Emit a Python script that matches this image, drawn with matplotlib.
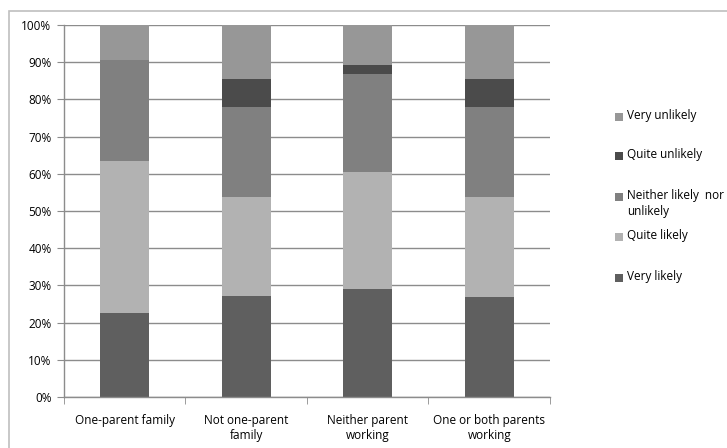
import numpy as np
import matplotlib.pyplot as plt
from matplotlib.patches import Rectangle

plt.rcParams['font.family'] = ['Open Sans', 'DejaVu Sans']

categories = ["One-parent family", "Not one-parent\nfamily", "Neither parent\nworking", "One or both parents\nworking"]
series = ["Very likely", "Quite likely", "Neither likely  nor\nunlikely", "Quite unlikely", "Very unlikely"]
very_likely = [22.7, 27.2, 28.9, 26.9]
quite_likely = [40.7, 26.6, 31.6, 26.9]
neither = [27.2, 24.2, 26.3, 24.2]
quite_unlikely = [0.0, 7.5, 2.5, 7.5]
very_unlikely = [9.4, 14.5, 10.7, 14.5]
colors = ["#5f5f5f", "#b2b2b2", "#808080", "#4b4b4b", "#979797"]

values = np.array([very_likely, quite_likely, neither, quite_unlikely, very_unlikely])

fig = plt.figure(figsize=(7.27, 4.48), dpi=100)
ax = fig.add_axes([64 / 727, 51 / 448, 486 / 727, 372 / 448])

# chart frame around everything
fig.patches.append(Rectangle((9 / 727, -0.05), 1.2, 1.05 - 11 / 448, transform=fig.transFigure,
                             fill=False, edgecolor="#bfbfbf", linewidth=1.2))

x = np.arange(len(categories))
bottom = np.zeros(len(categories))
for vals, col in zip(values, colors):
    ax.bar(x, vals, width=0.4, bottom=bottom, color=col, zorder=2)
    bottom += vals

ax.set_xlim(-0.5, len(categories) - 0.5)
ax.set_ylim(0, 100)
ax.set_yticks(np.arange(0, 101, 10))
ax.set_yticklabels([f"{v}%" for v in range(0, 101, 10)])
ax.yaxis.grid(True, color="#8c8c8c", linewidth=1.0, zorder=0)
ax.set_axisbelow(True)

ax.set_xticks(x)
ax.set_xticklabels(categories, linespacing=1.2)
ax.set_xticks(np.arange(-0.5, len(categories), 1), minor=True)
ax.tick_params(axis="x", which="major", length=0, pad=12, labelsize=8.5, colors="#000000")
ax.tick_params(axis="x", which="minor", length=5, color="#8c8c8c", direction="out")
ax.tick_params(axis="y", length=5, color="#8c8c8c", labelsize=8.5, pad=4)

for side in ["top", "right"]:
    ax.spines[side].set_visible(False)
for side in ["left", "bottom"]:
    ax.spines[side].set_color("#8c8c8c")
    ax.spines[side].set_linewidth(1.0)

# legend, top entry first
leg_y = [117, 156, 197, 237, 278]
for lab, col, yy in zip(series[::-1], colors[::-1], leg_y):
    fig.patches.append(Rectangle((615 / 727, 1 - (yy + 4) / 448), 8 / 727, 8 / 448,
                                 transform=fig.transFigure, facecolor=col, edgecolor="none"))
    fig.text(627 / 727, 1 - (yy - 8) / 448, lab, fontsize=8.5, va="top", ha="left", linespacing=1.3)

fig.savefig("out.png", dpi=100)
